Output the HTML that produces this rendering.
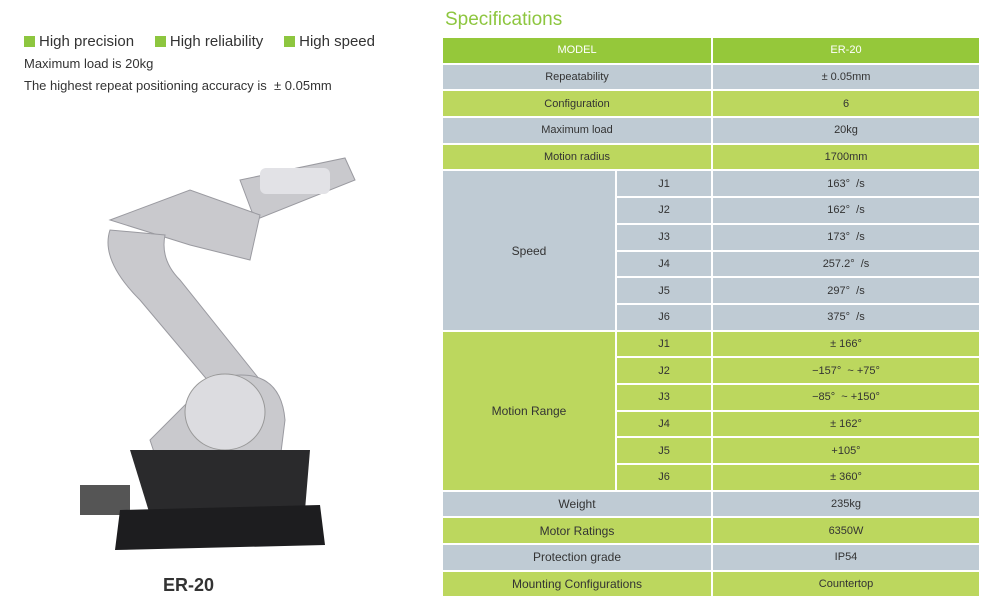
<!DOCTYPE html>
<html><head><meta charset="utf-8"><style>
body{margin:0;width:1002px;height:609px;background:#fff;font-family:"Liberation Sans",sans-serif;position:relative;overflow:hidden}
.t{position:absolute;color:#333}
table{position:absolute;left:441px;top:36px;width:538px;border-collapse:collapse;table-layout:fixed}
td{height:24.7px;border:2px solid #fff;text-align:center;font-size:11px;color:#333;padding:0}
.h td{background:#95c83a;color:#fff}
.g td,td.g{background:#bfcbd4}
.l td,td.l{background:#bcd75e}
.big{font-size:12px}
.sq{display:inline-block;width:11px;height:11px;background:#8dc63f;margin-right:4px;vertical-align:-1px}
</style></head><body>
<div class="t" style="left:24px;top:33px;font-size:15px;color:#333"><span class="sq"></span>High precision&nbsp;&nbsp;&nbsp;&nbsp;&nbsp;<span class="sq"></span>High reliability&nbsp;&nbsp;&nbsp;&nbsp;&nbsp;<span class="sq"></span>High speed</div>
<div class="t" style="left:24px;top:56px;font-size:13px">Maximum load is 20kg</div>
<div class="t" style="left:24px;top:78px;font-size:13px">The highest repeat positioning accuracy is &nbsp;± 0.05mm</div>
<div class="t" style="left:445px;top:9px;font-size:19px;color:#8dc63f">Specifications</div>
<div class="t" style="left:163px;top:575px;font-size:18px;font-weight:bold">ER-20</div>
<svg style="position:absolute;left:70px;top:150px" width="300" height="420" viewBox="0 0 300 420">
<g fill="#c9c9cd" stroke="#9a9aa0" stroke-width="1">
<path d="M170 30 L275 8 L285 30 L185 70 Z"/>
<path d="M40 70 L120 40 L190 65 L180 110 L120 95 Z"/>
<path d="M40 80 Q30 110 70 150 L150 245 L190 230 L110 130 Q90 110 95 85 Z"/>
<path d="M140 230 Q210 210 215 270 L210 310 L90 320 L80 290 Q110 260 140 230 Z"/>
</g>
<rect x="190" y="18" width="70" height="26" rx="6" fill="#e2e2e6"/>
<ellipse cx="155" cy="262" rx="40" ry="38" fill="#dcdce0" stroke="#999"/>
<path d="M60 300 L240 300 L235 360 L80 365 Z" fill="#2a2a2c"/>
<rect x="10" y="335" width="50" height="30" fill="#555"/>
<path d="M50 360 L250 355 L255 395 L45 400 Z" fill="#1d1d1f"/>
</svg>
<table>
<colgroup><col style="width:174px"><col style="width:96px"><col style="width:268px"></colgroup>
<tr class="h"><td colspan="2">MODEL</td><td>ER-20</td></tr>
<tr class="g"><td colspan="2">Repeatability</td><td>± 0.05mm</td></tr>
<tr class="l"><td colspan="2">Configuration</td><td>6</td></tr>
<tr class="g"><td colspan="2">Maximum load</td><td>20kg</td></tr>
<tr class="l"><td colspan="2">Motion radius</td><td>1700mm</td></tr>
<tr class="g"><td rowspan="6" class="big">Speed</td><td>J1</td><td>163° &nbsp;/s</td></tr>
<tr class="g"><td>J2</td><td>162° &nbsp;/s</td></tr>
<tr class="g"><td>J3</td><td>173° &nbsp;/s</td></tr>
<tr class="g"><td>J4</td><td>257.2° &nbsp;/s</td></tr>
<tr class="g"><td>J5</td><td>297° &nbsp;/s</td></tr>
<tr class="g"><td>J6</td><td>375° &nbsp;/s</td></tr>
<tr class="l"><td rowspan="6" class="big">Motion Range</td><td>J1</td><td>± 166°</td></tr>
<tr class="l"><td>J2</td><td>−157° &nbsp;~ +75°</td></tr>
<tr class="l"><td>J3</td><td>−85° &nbsp;~ +150°</td></tr>
<tr class="l"><td>J4</td><td>± 162°</td></tr>
<tr class="l"><td>J5</td><td>+105°</td></tr>
<tr class="l"><td>J6</td><td>± 360°</td></tr>
<tr class="g"><td colspan="2" class="big">Weight</td><td>235kg</td></tr>
<tr class="l"><td colspan="2" class="big">Motor Ratings</td><td>6350W</td></tr>
<tr class="g"><td colspan="2" class="big">Protection grade</td><td>IP54</td></tr>
<tr class="l"><td colspan="2" class="big">Mounting Configurations</td><td>Countertop</td></tr>
</table>
</body></html>
